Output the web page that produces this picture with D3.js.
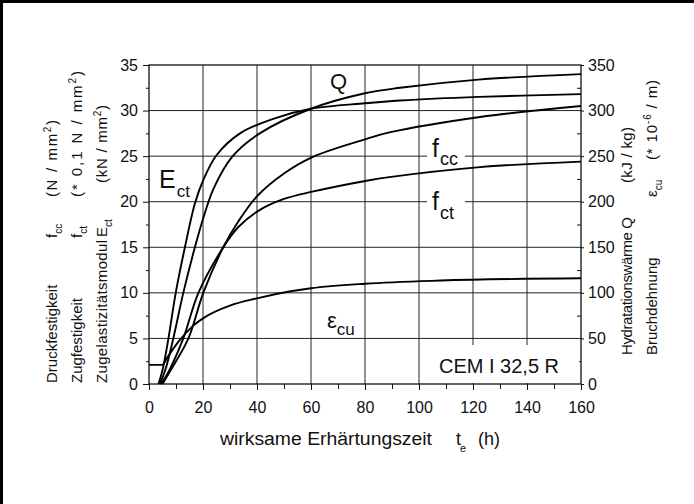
<!DOCTYPE html>
<html lang="de">
  <head>
    <meta charset="UTF-8" />
    <title>Erhärtung CEM I 32,5 R</title>
    <script src="https://d3js.org/d3.v7.min.js"></script>
    <style>
      body { margin: 0; background: #fff; }
      svg { font-family: "Liberation Sans", Arial, sans-serif; }
      .curve { fill: none; stroke: #000; stroke-width: 1.9px; }
      .grid line { stroke: #222; stroke-width: 1px; }
      .axis text { font-size: 16px; fill: #111; }
      .axis line { stroke: #111; }
      .vlabel { font-size: 15px; fill: #111; }
    </style>
  </head>
  <body>
    <svg id="chart" width="694" height="504"></svg>
    <script>
      // axis ticks
      const timeTicks = [0, 20, 40, 60, 80, 100, 120, 140, 160];
      const timeMinor = [10, 30, 50, 70, 90, 110, 130, 150];
      const leftTicks = [0, 5, 10, 15, 20, 25, 30, 35];
      const leftMinor = [2.5, 7.5, 12.5, 17.5, 22.5, 27.5, 32.5];
      const rightTicks = [0, 50, 100, 150, 200, 250, 300, 350];
      const rightMinor = [25, 75, 125, 175, 225, 275, 325];

      // curves: [t_e (h), value]
      // E_ct in kN/mm², f_cc in N/mm², f_ct in 0.1 N/mm² (left axis)
      const ectValues = [[3.5, 0], [5, 1.5], [7.2, 5], [9.9, 10], [13.3, 15], [17, 19.8], [20, 22.3], [25, 25.1], [33.7, 27.5], [46, 29.1], [60, 30.2], [80, 30.8], [93, 31.1], [122, 31.5], [160, 31.8]];
      const fccValues = [[5, 0], [8, 1.5], [14.6, 5], [20.1, 10], [27.5, 15], [33, 17.8], [40, 20.6], [50, 23.1], [60.5, 24.9], [80.6, 26.9], [89, 27.6], [122.6, 29.3], [160, 30.5]];
      const fctValues = [[4.5, 0], [7.5, 1.5], [12.7, 5], [18.3, 10], [27.5, 15], [33, 17.2], [40.5, 19.0], [50, 20.3], [60.5, 21.1], [80.6, 22.3], [89, 22.7], [122.6, 23.8], [160, 24.4]];
      // Q in kJ/kg, eps_cu in 1e-6/m (right axis)
      const qValues = [[4, 0], [6, 15], [9, 50], [12.7, 100], [17, 150], [20.2, 183], [24, 215], [31, 250], [41, 275], [60, 302], [80, 319], [93, 325], [122, 334], [160, 340]];
      const epsValues = [[0, 21], [4.8, 21], [7, 30], [10, 43], [12.5, 52], [16, 63], [20, 72], [30, 86], [40, 94], [53, 102], [60, 105], [80, 110], [108, 113.5], [160, 116]];

      const svg = d3.select("#chart");
      const x = d3.scaleLinear().domain([0, 160]).range([149, 581]);
      const y = d3.scaleLinear().domain([0, 35]).range([384, 65]);
      const yR = d3.scaleLinear().domain([0, 350]).range([384, 65]);

      // outer frame lines
      svg.append("line").attr("x1", 0).attr("x2", 694).attr("y1", 1.5).attr("y2", 1.5)
        .attr("stroke", "#000").attr("stroke-width", 3);
      svg.append("line").attr("x1", 1.5).attr("x2", 1.5).attr("y1", 0).attr("y2", 504)
        .attr("stroke", "#000").attr("stroke-width", 3);

      // grid
      const grid = svg.append("g").attr("class", "grid");
      grid.selectAll(".gx").data(timeTicks.slice(1, -1)).enter().append("line")
        .attr("x1", (d) => x(d)).attr("x2", (d) => x(d))
        .attr("y1", y(35)).attr("y2", y(0));
      grid.selectAll(".gy").data(leftTicks.slice(1, -1)).enter().append("line")
        .attr("x1", x(0)).attr("x2", x(160))
        .attr("y1", (d) => y(d)).attr("y2", (d) => y(d));

      // plot frame
      svg.append("rect")
        .attr("x", x(0)).attr("y", y(35))
        .attr("width", x(160) - x(0)).attr("height", y(0) - y(35))
        .attr("fill", "none").attr("stroke", "#111").attr("stroke-width", 1.3);

      // axes
      svg.append("g").attr("class", "axis")
        .attr("transform", `translate(0,${y(0)})`)
        .call(d3.axisBottom(x).tickValues(timeTicks).tickSize(6).tickPadding(12))
        .call((g) => g.select(".domain").remove());
      svg.append("g").attr("class", "axis")
        .attr("transform", `translate(0,${y(0)})`)
        .call(d3.axisBottom(x).tickValues(timeMinor).tickSize(5).tickFormat(""))
        .call((g) => g.select(".domain").remove());

      svg.append("g").attr("class", "axis")
        .attr("transform", `translate(${x(0)},0)`)
        .call(d3.axisLeft(y).tickValues(leftTicks).tickSize(6).tickPadding(5))
        .call((g) => g.select(".domain").remove());
      svg.append("g").attr("class", "axis")
        .attr("transform", `translate(${x(0)},0)`)
        .call(d3.axisLeft(y).tickValues(leftMinor).tickSize(3).tickFormat(""))
        .call((g) => g.select(".domain").remove());

      svg.append("g").attr("class", "axis")
        .attr("transform", `translate(${x(160)},0)`)
        .call(d3.axisRight(yR).tickValues(rightTicks).tickSize(3).tickPadding(4))
        .call((g) => g.select(".domain").remove());
      svg.append("g").attr("class", "axis")
        .attr("transform", `translate(${x(160)},0)`)
        .call(d3.axisLeft(yR).tickValues(rightMinor).tickSize(4).tickFormat(""))
        .call((g) => g.select(".domain").remove());

      // white patches behind in-plot labels
      const patches = [[427, 140, 38, 28], [427, 193, 38, 29], [421, 345, 158, 38]];
      svg.selectAll(".patch").data(patches).enter().append("rect")
        .attr("x", (d) => d[0]).attr("y", (d) => d[1])
        .attr("width", (d) => d[2]).attr("height", (d) => d[3])
        .attr("fill", "#fff");

      // curves
      const lineL = d3.line().x((d) => x(d[0])).y((d) => y(d[1])).curve(d3.curveCatmullRom.alpha(0.5));
      const lineR = d3.line().x((d) => x(d[0])).y((d) => yR(d[1])).curve(d3.curveCatmullRom.alpha(0.5));
      [ectValues, fccValues, fctValues].forEach((s) => {
        svg.append("path").datum(s).attr("class", "curve").attr("d", lineL);
      });
      svg.append("path").datum(qValues).attr("class", "curve").attr("d", lineR);
      svg.append("path").datum(epsValues).attr("class", "curve")
        .attr("d", lineR.curve(d3.curveMonotoneX));

      // curve labels
      const symbol = (px, py, main, sub, size, subSize, subDx, subDy) => {
        const t = svg.append("text").attr("x", px).attr("y", py)
          .style("font-size", size + "px").attr("fill", "#111");
        t.append("tspan").text(main);
        if (sub) {
          t.append("tspan").attr("dx", subDx).attr("dy", subDy)
            .style("font-size", subSize + "px").text(sub);
        }
      };
      symbol(330, 89, "Q", null, 22);
      symbol(159, 188, "E", "ct", 25, 17, 1, 9);
      symbol(432, 157, "f", "cc", 25, 18, 1, 8);
      symbol(432, 210, "f", "ct", 25, 18, 1, 9);
      symbol(327, 328, "\u03b5", "cu", 22, 17, 0, 7);
      svg.append("text").attr("x", 499).attr("y", 373)
        .attr("text-anchor", "middle").style("font-size", "20px")
        .attr("fill", "#111").text("CEM I 32,5 R");

      // x axis title
      svg.append("text").attr("x", 220).attr("y", 445)
        .attr("textLength", 212).attr("lengthAdjust", "spacingAndGlyphs")
        .style("font-size", "18px").attr("fill", "#111")
        .text("wirksame Erhärtungszeit");
      const xt = svg.append("text").attr("y", 445).style("font-size", "18px").attr("fill", "#111");
      xt.append("tspan").attr("x", 456).text("t");
      xt.append("tspan").attr("x", 460).attr("dy", 7).style("font-size", "11px").text("e");
      xt.append("tspan").attr("x", 478).attr("dy", -7).text("(h)");

      // rotated axis descriptions
      const vtext = (bx, by, parts, len) => {
        const t = svg.append("text").attr("class", "vlabel")
          .attr("transform", `translate(${bx},${by}) rotate(-90)`);
        if (len) t.attr("textLength", len).attr("lengthAdjust", "spacing");
        let shift = 0;
        parts.forEach(([str, kind]) => {
          const sp = t.append("tspan").text(str);
          const target = kind === "sub" ? 5 : kind === "sup" ? -6 : 0;
          if (target !== shift) sp.attr("dy", target - shift);
          if (kind) sp.style("font-size", "10px");
          shift = target;
        });
      };
      vtext(57, 383, [["Druckfestigkeit"]]);
      vtext(57, 238, [["f"], ["cc", "sub"]]);
      vtext(57, 197, [["(N / mm"], ["2", "sup"], [")"]], 77);
      vtext(82, 383, [["Zugfestigkeit"]]);
      vtext(82, 238, [["f"], ["ct", "sub"]]);
      vtext(82, 197, [["(* 0,1 N / mm"], ["2", "sup"], [")"]], 126);
      vtext(107, 383, [["Zugelastizitätsmodul"]], 143);
      vtext(107, 237, [["E"], ["ct", "sub"]]);
      vtext(107, 183, [["(kN / mm"], ["2", "sup"], [")"]], 78);
      vtext(632, 355, [["Hydratationswärme  Q"]], 138);
      vtext(632, 183, [["(kJ / kg)"]], 56);
      vtext(657, 355, [["Bruchdehnung"]]);
      vtext(657, 197, [["\u03b5"], ["cu", "sub"]]);
      vtext(657, 160, [["(* 10"], ["-6", "sup"], [" / m)"]], 80);
    </script>
  </body>
</html>
